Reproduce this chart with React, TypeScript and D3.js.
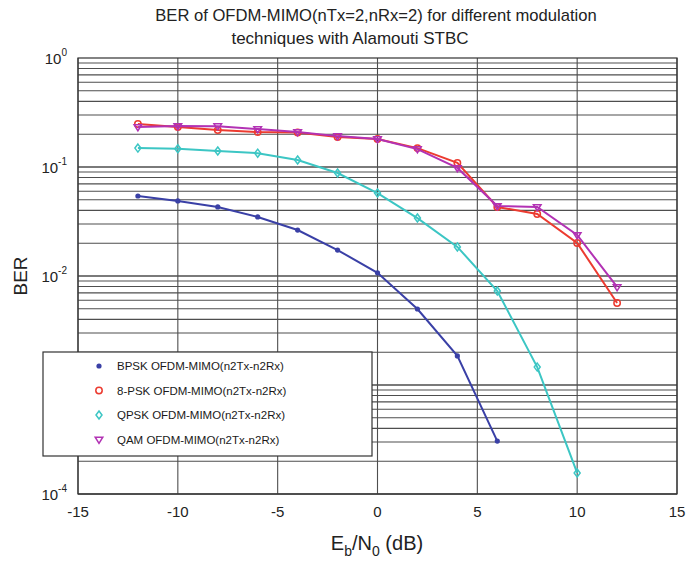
import React, { useEffect, useRef } from "react";
import * as d3 from "d3";

// Eb/N0 sweep in dB
const snrDb = [-12, -10, -8, -6, -4, -2, 0, 2, 4, 6, 8, 10, 12];

// BER per modulation scheme
const berBpsk = [0.0542, 0.0488, 0.043, 0.0348, 0.0264, 0.0173, 0.0107, 0.00498, 0.00185, 0.000306];
const ber8psk = [0.248, 0.233, 0.218, 0.209, 0.207, 0.188, 0.181, 0.149, 0.109, 0.043, 0.0371, 0.0201, 0.00565];
const berQpsk = [0.149, 0.147, 0.14, 0.134, 0.116, 0.088, 0.0577, 0.034, 0.0185, 0.00728, 0.00146, 0.000156];
const berQam = [0.233, 0.238, 0.237, 0.223, 0.209, 0.192, 0.181, 0.146, 0.098, 0.0439, 0.043, 0.0238, 0.00793];

const seriesNames = [
  "BPSK OFDM-MIMO(n2Tx-n2Rx)",
  "8-PSK OFDM-MIMO(n2Tx-n2Rx)",
  "QPSK OFDM-MIMO(n2Tx-n2Rx)",
  "QAM OFDM-MIMO(n2Tx-n2Rx)",
];
const seriesColors = ["#3a40a6", "#ec3b30", "#3cc6c4", "#b232b4"];
const seriesMarkers = ["dot", "circle", "diamond", "triangleDown"];

const xTicks = [-15, -10, -5, 0, 5, 10, 15];
// decade labels shown on the y axis (10^-3 sits under the legend)
const yDecades = [0, -1, -2, -4];

const W = 687;
const H = 562;
const FONT = "'Liberation Sans', Arial, Helvetica, sans-serif";

function drawMarker(g: any, kind: string, x: number, y: number, color: string) {
  if (kind === "dot") {
    g.append("circle").attr("cx", x).attr("cy", y).attr("r", 2.6).attr("fill", color);
  } else if (kind === "circle") {
    g.append("circle").attr("cx", x).attr("cy", y).attr("r", 3.2)
      .attr("fill", "none").attr("stroke", color).attr("stroke-width", 1.5);
  } else if (kind === "diamond") {
    const s = 4;
    g.append("path").attr("d", `M${x},${y - s}L${x + 3},${y}L${x},${y + s}L${x - 3},${y}Z`)
      .attr("fill", "none").attr("stroke", color).attr("stroke-width", 1.5);
  } else {
    const s = 3.8;
    g.append("path").attr("d", `M${x - s},${y - s * 0.6}L${x + s},${y - s * 0.6}L${x},${y + s}Z`)
      .attr("fill", "none").attr("stroke", color).attr("stroke-width", 1.5);
  }
}

export default function App() {
  const ref = useRef<SVGSVGElement>(null);

  useEffect(() => {
    const svg = d3.select(ref.current);
    svg.selectAll("*").remove();

    const left = 78, right = 677, top = 58, bottom = 494;
    const x = d3.scaleLinear().domain([-15, 15]).range([left, right]);
    const y = d3.scaleLog().domain([1e-4, 1]).range([bottom, top]);

    svg.append("rect").attr("width", W).attr("height", H).attr("fill", "#fff");

    // grid
    const grid = svg.append("g").attr("stroke", "#4e4e4e").attr("stroke-width", 1.1);
    for (let k = -4; k < 0; k++) {
      for (let m = 1; m <= 9; m++) {
        const v = m * Math.pow(10, k);
        grid.append("line").attr("x1", left).attr("x2", right)
          .attr("y1", y(v)).attr("y2", y(v))
          .attr("stroke-width", m === 1 ? 1.4 : 1.1);
      }
    }
    xTicks.forEach((t) => {
      grid.append("line").attr("x1", x(t)).attr("x2", x(t)).attr("y1", top).attr("y2", bottom);
    });
    svg.append("rect").attr("x", left).attr("y", top).attr("width", right - left).attr("height", bottom - top)
      .attr("fill", "none").attr("stroke", "#333").attr("stroke-width", 1.2);

    // series
    const allSeries = [berBpsk, ber8psk, berQpsk, berQam];
    allSeries.forEach((vals, i) => {
      const pts: [number, number][] = vals.map((v, j) => [snrDb[j], v]);
      const line = d3.line<[number, number]>().x((d) => x(d[0])).y((d) => y(d[1]));
      svg.append("path").attr("d", line(pts)).attr("fill", "none")
        .attr("stroke", seriesColors[i]).attr("stroke-width", 2);
      const mg = svg.append("g");
      pts.forEach((p) => drawMarker(mg, seriesMarkers[i], x(p[0]), y(p[1]), seriesColors[i]));
    });

    // x tick labels
    xTicks.forEach((t) => {
      svg.append("text").attr("x", x(t)).attr("y", 517).attr("text-anchor", "middle")
        .attr("font-family", FONT).attr("font-size", 15).attr("fill", "#222").text(String(t));
    });

    // y tick labels (powers of ten)
    yDecades.forEach((e) => {
      const ty = y(Math.pow(10, e));
      const t = svg.append("text").attr("x", 67).attr("y", ty + 6).attr("text-anchor", "end")
        .attr("font-family", FONT).attr("font-size", 15).attr("fill", "#222");
      t.append("tspan").text("10");
      t.append("tspan").attr("dy", -8).attr("font-size", 10).text(String(e));
    });

    // legend
    const lg = svg.append("g");
    lg.append("rect").attr("x", 43).attr("y", 352).attr("width", 329).attr("height", 104)
      .attr("fill", "#fff").attr("stroke", "#333").attr("stroke-width", 1.2);
    seriesNames.forEach((name, i) => {
      const ly = 366 + i * 24.5;
      drawMarker(lg, seriesMarkers[i], 99, ly, seriesColors[i]);
      lg.append("text").attr("x", 117).attr("y", ly + 4).attr("font-family", FONT)
        .attr("font-size", 11.5).attr("fill", "#1a1a1a").text(name);
    });

    // titles
    svg.append("text").attr("x", 376).attr("y", 21).attr("text-anchor", "middle")
      .attr("font-family", FONT).attr("font-size", 16.6).attr("fill", "#222")
      .text("BER of OFDM-MIMO(nTx=2,nRx=2) for different modulation");
    svg.append("text").attr("x", 350).attr("y", 44).attr("text-anchor", "middle")
      .attr("font-family", FONT).attr("font-size", 17).attr("fill", "#222")
      .text("techniques with Alamouti STBC");

    // axis labels
    svg.append("text").attr("transform", "translate(27,276) rotate(-90)").attr("text-anchor", "middle")
      .attr("font-family", FONT).attr("font-size", 19).attr("fill", "#222").text("BER");
    const xl = svg.append("text").attr("x", 377).attr("y", 550).attr("text-anchor", "middle")
      .attr("font-family", FONT).attr("font-size", 20).attr("fill", "#222");
    xl.append("tspan").text("E");
    xl.append("tspan").attr("dy", 6).attr("font-size", 14).text("b");
    xl.append("tspan").attr("dy", -6).text("/N");
    xl.append("tspan").attr("dy", 6).attr("font-size", 14).text("0");
    xl.append("tspan").attr("dy", -6).text(" (dB)");
  }, []);

  return (
    <svg ref={ref} width={W} height={H}
      style={{ position: "absolute", left: 0, top: 0, display: "block" }} />
  );
}
